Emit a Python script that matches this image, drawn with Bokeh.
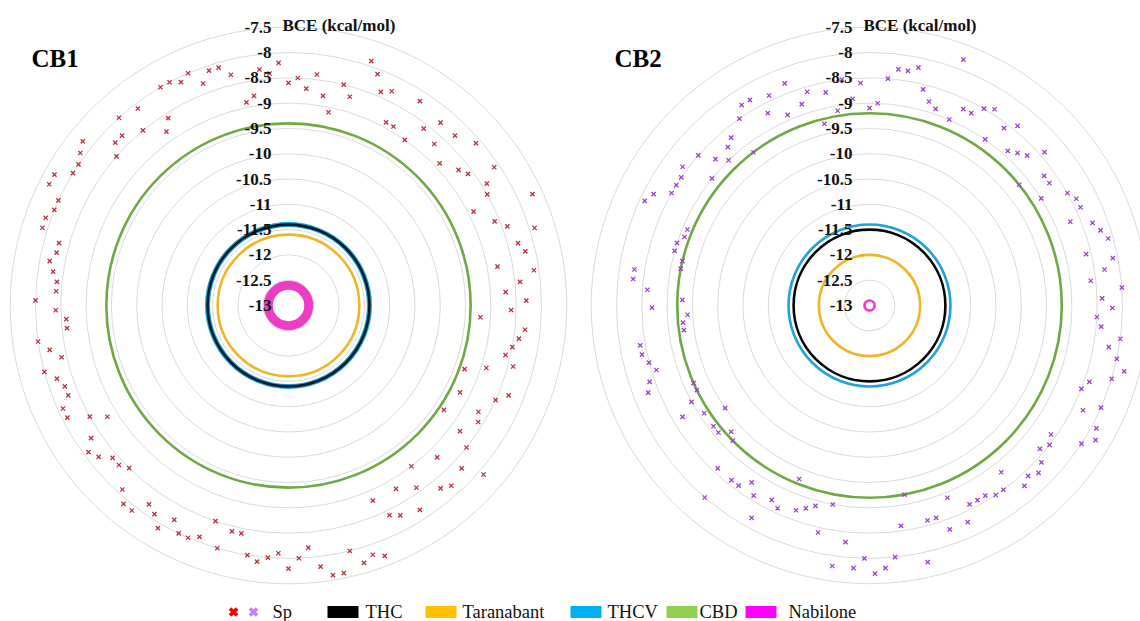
import math
from bokeh.plotting import figure
from bokeh.models import Range1d
from bokeh.embed import file_html
from bokeh.resources import INLINE
from bokeh.core.properties import value

# ---------------- data ----------------
# Binding energies (kcal/mol) of the Sp ligands, one radar category each, clockwise from the top
sp_cb1 = [-8.6,
    -8.5, -8.7, -8.4, -8.8, -9.1, -8.5, -8.7, -7.9, -8.1, -8.4,
    -8.3, -8.9, -8.9, -8.2, -9.0, -8.6, -8.3, -8.7, -8.3, -8.9,
    -8.1, -8.7, -8.6, -8.1, -8.4, -8.5, -8.9, -7.7, -8.6, -8.4,
    -7.9, -8.3, -8.2, -8.8, -8.1, -8.4, -8.7, -8.3, -8.6, -9.2,
    -8.3, -8.4, -8.5, -8.6, -8.4, -8.9, -9.3, -8.3, -8.5, -9.2,
    -8.7, -8.6, -9.3, -8.8, -8.5, -7.9, -8.3, -8.8, -8.2, -8.3,
    -9.0, -8.6, -8.2, -8.8, -8.3, -8.4, -8.8, -7.7, -7.8, -7.7,
    -8.0, -7.6, -7.6, -7.8, -8.2, -8.0, -7.8, -8.1, -8.0, -7.9,
    -8.0, -8.4, -8.4, -8.0, -8.5, -8.1, -8.0, -8.0, -8.2, -7.9,
    -8.1, -8.2, -7.9, -7.9, -8.1, -8.5, -8.4, -8.4, -8.2, -8.1,
    -8.3, -8.8, -8.5, -8.1, -8.1, -8.3, -8.3, -8.2, -8.0, -8.4,
    -8.2, -8.0, -8.6, -8.6, -8.4, -8.0, -8.4, -8.4, -8.3, -8.2,
    -8.3, -8.3, -7.9, -7.9, -8.0, -8.0, -7.7, -7.7, -8.0, -8.0,
    -7.9, -7.8, -8.5, -8.3, -8.3, -8.0, -8.5, -8.1, -8.8, -8.6,
    -8.0, -8.0, -8.1, -8.0, -8.3, -8.1, -8.1, -8.3, -8.9, -8.8,
    -8.3, -8.4, -8.2]

sp_cb2 = [
    -9.1, -9.0, -8.5, -8.3, -8.3, -8.2, -8.6, -8.8, -8.9, -7.8,
    -9.0, -8.7, -8.7, -8.5, -8.4, -9.0, -8.6, -8.4, -8.9, -8.8,
    -8.7, -8.4, -9.2, -8.7, -8.7, -9.0, -8.5, -8.4, -8.4, -8.7,
    -8.3, -8.2, -8.1, -8.6, -8.1, -8.3, -8.6, -8.0, -8.4, -8.2,
    -8.5, -8.4, -8.0, -8.2, -8.0, -7.8, -8.0, -8.4, -8.5, -8.0,
    -8.3, -7.9, -7.8, -8.0, -8.6, -8.5, -8.6, -8.4, -8.3, -8.4,
    -8.3, -8.8, -8.5, -8.5, -8.6, -8.6, -8.6, -8.3, -8.9, -8.3,
    -8.6, -8.6, -7.8, -9.2, -8.6, -8.0, -7.8, -7.7, -8.0, -7.8,
    -8.3, -7.8, -9.0, -8.4, -8.9, -8.8, -8.7, -9.3, -8.6, -8.7,
    -8.2, -8.6, -8.8, -8.6, -8.6, -8.0, -8.6, -9.2, -9.3, -9.1,
    -9.1, -9.5, -9.1, -8.7, -9.0, -9.2, -9.2, -8.3, -8.4, -8.6,
    -8.5, -8.4, -8.4, -9.3, -9.3, -9.4, -8.7, -9.3, -8.6, -8.3,
    -8.3, -9.2, -9.2, -9.0, -9.0, -9.1, -9.1, -8.1, -8.2, -8.5,
    -8.5, -8.5, -8.4, -9.0, -8.5, -8.8, -9.0, -8.8, -8.7, -9.2,
    -8.5, -8.3, -8.3, -8.7, -8.4, -8.9, -8.3, -8.8, -8.6, -9.3,
    -8.7, -9.1, -8.5, -8.9, -8.6]

ref_names = ["THC", "Taranabant", "THCV", "CBD", "Nabilone"]
ref_cb1 = [-11.4, -11.6, -11.4, -9.4, -12.6]
ref_cb2 = [-11.5, -12.0, -11.4, -9.2, -12.9]

ticks = [-7.5, -8, -8.5, -9, -9.5, -10, -10.5, -11, -11.5, -12, -12.5, -13]
tick_labels = ["-7.5", "-8", "-8.5", "-9", "-9.5", "-10", "-10.5", "-11", "-11.5", "-12", "-12.5", "-13"]
r_min = -13.0            # value at the centre of each radar
axis_title = "BCE (kcal/mol)"
panel_titles = ["CB1", "CB2"]
sp_label = "Sp"

# ---------------- layout ----------------
S = 50.6                 # pixels per kcal/mol on the radial axis
CX1_PX, CX2_PX, CY_PX = 288, 869, 305   # page positions of the two centres
W, H = 1140, 621


def dx(px):
    return (px - CX1_PX) / S


def dy(py):
    return (CY_PX - py) / S


p = figure(width=W, height=H, x_range=Range1d(dx(0), dx(W)), y_range=Range1d(dy(H), dy(0)),
           output_backend="svg", toolbar_location=None, min_border=0, title=None)
p.axis.visible = False
p.grid.visible = False
p.outline_line_color = None
p.background_fill_color = "white"

serif = value("Times New Roman")

ring_cols = {"THC": "#050505", "Taranabant": "#F0B526", "THCV": "#1EA2D9", "CBD": "#6FA844", "Nabilone": "#EF3CC6"}
legend_cols = {"THC": "#000000", "Taranabant": "#FFC000", "THCV": "#00B0F0", "CBD": "#92D050", "Nabilone": "#FF00FF"}

panels = [(dx(CX1_PX), sp_cb1, ref_cb1, "#B8343E", panel_titles[0], 31),
          (dx(CX2_PX), sp_cb2, ref_cb2, "#9C42CC", panel_titles[1], 614)]

for k, (cx, sp, refs, mcol, title, tx) in enumerate(panels):
    first = (k == 0)
    rs = [t - r_min for t in ticks if t != r_min]
    p.circle(x=[cx] * len(rs), y=[0] * len(rs), radius=rs, fill_color=None, line_color="#DADADA", line_width=1)
    ref = dict(zip(ref_names, refs))
    p.circle(x=[cx], y=[0], radius=[ref["CBD"] - r_min], fill_color=None, line_color=ring_cols["CBD"], line_width=2.6)
    p.circle(x=[cx], y=[0], radius=[ref["Taranabant"] - r_min], fill_color=None, line_color=ring_cols["Taranabant"], line_width=2.6)
    p.circle(x=[cx], y=[0], radius=[ref["THCV"] - r_min], fill_color=None, line_color=ring_cols["THCV"],
             line_width=5 if first else 2.6)
    p.circle(x=[cx], y=[0], radius=[ref["THC"] - r_min], fill_color=None,
             line_color="#0A1C2A" if first else ring_cols["THC"], line_width=2.6)
    p.circle(x=[cx], y=[0], radius=[ref["Nabilone"] - r_min], fill_color=None, line_color=ring_cols["Nabilone"],
             line_width=9 if first else 2.6)
    n = len(sp)
    xs = [cx + (v - r_min) * math.sin(2 * math.pi * i / n) for i, v in enumerate(sp)]
    ys = [(v - r_min) * math.cos(2 * math.pi * i / n) for i, v in enumerate(sp)]
    p.scatter(xs, ys, marker="x", size=6, line_color=mcol, line_width=1.3)
    p.text(x=[cx] * len(ticks), y=[t - r_min for t in ticks], text=tick_labels, x_offset=-17,
           text_align="right", text_baseline="middle", text_font=serif, text_font_style="bold",
           text_font_size="17px", text_color="#111111")
    p.text(x=[cx], y=[ticks[0] - r_min], text=[axis_title], x_offset=-6, y_offset=-2, text_align="left",
           text_baseline="middle", text_font=serif, text_font_style="bold", text_font_size="17px",
           text_color="#111111")
    p.text(x=[dx(tx)], y=[dy(58)], text=[title], text_align="left", text_baseline="middle",
           text_font=serif, text_font_style="bold", text_font_size="25px", text_color="#000000")

# ---------------- legend ----------------
ly = dy(611.5)
p.scatter([dx(233), dx(253)], [ly, ly], marker="x", size=10, line_width=3.6, line_color=["#FF0000", "#C77DFF"])
p.text(x=[dx(272)], y=[ly], text=[sp_label], text_align="left", text_baseline="middle", text_font=serif,
       text_font_size="18.5px", text_color="#111111")
leg_pos = {"THC": (327, 365), "Taranabant": (425, 462), "THCV": (570, 607), "CBD": (666, 699), "Nabilone": (745, 788)}
for name in ref_names:
    rx, tx = leg_pos[name]
    p.rect(x=[dx(rx + 15.5)], y=[ly], width=[31 / S], height=[12 / S], fill_color=legend_cols[name], line_color=None)
    p.text(x=[dx(tx)], y=[ly], text=[name], text_align="left", text_baseline="middle", text_font=serif,
           text_font_size="18.5px", text_color="#111111")

open("out.html", "w").write(file_html(p, INLINE))
